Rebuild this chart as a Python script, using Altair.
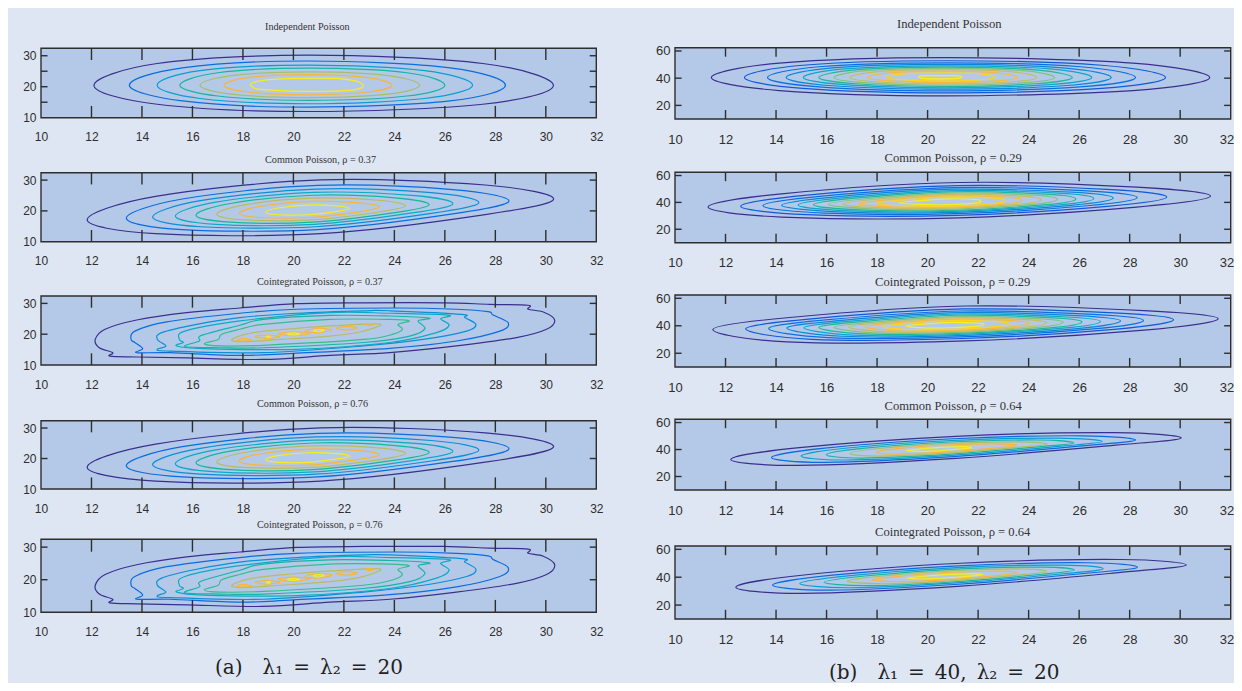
import altair as alt
import pandas as pd

X_TICKS = [12, 14, 16, 18, 20, 22, 24, 26, 28, 30]
X_LABELS = [10, 12, 14, 16, 18, 20, 22, 24, 26, 28, 30, 32]
Y_LABELS_L = [10, 20, 30]
Y_LABELS_R = [20, 40, 60]

TITLES_L = ["Independent Poisson", "Common Poisson, ρ = 0.37", "Cointegrated Poisson, ρ = 0.37",
            "Common Poisson, ρ = 0.76", "Cointegrated Poisson, ρ = 0.76"]
TITLES_R = ["Independent Poisson", "Common Poisson, ρ = 0.29", "Cointegrated Poisson, ρ = 0.29",
            "Common Poisson, ρ = 0.64", "Cointegrated Poisson, ρ = 0.64"]
CAPTION_L = "(a)\u2003λ₁\u2002=\u2002λ₂\u2002=\u200220"
CAPTION_R = "(b)\u2003λ₁\u2002=\u200240,\u2002λ₂\u2002=\u200220"

C7 = ["#3b2f8e", "#0b6be0", "#0a9ed2", "#17b5a2", "#a5bf6c", "#f8b53a", "#f7ec1c"]
C8 = ["#3b2f8e", "#0b6be0", "#0a8fd8", "#0caac6", "#14b89a", "#b9bc60", "#f8b53a", "#f7ec1c"]
C11 = ["#3b2f8e", "#1059da", "#0c6fe0", "#0a86dd", "#0ea6cb", "#1fb79d", "#7dc47c", "#c5bd5e",
       "#f9b83a", "#fcd31e", "#f7ef1c"]
C15 = ["#3b2f8e", "#0b6be0", "#0a8fd8", "#0caac6", "#12b5a8", "#35bd8c", "#b9bc60",
       "#f8b53a", "#f8b53a", "#f8b53a", "#f8b53a", "#f8b53a", "#f8b53a", "#f7ec1c", "#f7ec1c", "#f7ec1c"]

IND_L = [
    [(12.1,20.4),(14.6,27.5),(20.6,30.2),(27.5,27.5),(30.3,20.4),(27.5,14.35),(20.6,12.0),(14.6,14.35)],
    [(13.5,20.5),(15.6,26.1),(20.6,28.3),(26.2,26.1),(28.4,20.5),(26.2,15.4),(20.6,13.4),(15.6,15.4)],
    [(14.6,20.5),(16.3,25.2),(20.6,27),(25.2,25.2),(27.1,20.5),(25.2,16.2),(20.6,14.5),(16.3,16.2)],
    [(15.5,20.5),(17,24.5),(20.6,26),(24.5,24.5),(26,20.5),(24.5,17),(20.6,15.6),(17,17)],
    [(16.3,20.5),(17.55,23.6),(20.6,24.8),(23.75,23.6),(25,20.5),(23.75,17.6),(20.6,16.5),(17.55,17.6)],
    [(17.25,20.5),(18.2,22.95),(20.6,23.9),(22.95,22.95),(23.9,20.5),(22.95,18.3),(20.6,17.4),(18.2,18.3)],
    [(18.36,21.2),(19.03,22.26),(20.1,22.7),(21.7,22.7),(22.5,21.8),(22.75,20.75),(22.7,19.7),(22.2,18.8),(20.44,18.5),(18.7,19.15),(18.36,20.1)],
]
COM_L = [
    [(11.83,17.1),(14.54,24.7),(21.07,30.05),(27.6,28.4),(30.31,23.9),(27.6,18.8),(21.07,12.6),(14.54,12.6)],
    [(13.38,17.64),(15.6,23.87),(20.96,28.26),(26.31,26.91),(28.54,23.22),(26.31,19.03),(20.96,13.95),(15.6,13.95)],
    [(14.42,18),(16.31,23.32),(20.88,27.07),(25.46,25.91),(27.35,22.76),(25.46,19.19),(20.88,14.85),(16.31,14.85)],
    [(15.32,18.31),(16.93,22.84),(20.82,26.02),(24.7,25.04),(26.32,22.36),(24.7,19.33),(20.82,15.64),(16.93,15.64)],
    [(16.14,18.6),(17.5,22.4),(20.76,25.08),(24.03,24.25),(25.38,22),(24.03,19.45),(20.76,16.35),(17.5,16.35)],
    [(16.96,18.89),(18.06,21.96),(20.7,24.13),(23.35,23.46),(24.44,21.64),(23.35,19.57),(20.7,17.06),(18.06,17.06)],
    [(17.86,19.2),(18.68,21.48),(20.64,23.09),(22.6,22.59),(23.41,21.24),(22.6,19.71),(20.64,17.85),(18.68,17.85)],
    [(18.9,19.56),(19.39,20.93),(20.56,21.89),(21.74,21.59),(22.22,20.78),(21.74,19.87),(20.56,18.75),(19.39,18.75)],
]
COI_L = [
    [(12.15,18.3),(12.54,21.6),(13.79,24.6),(15.77,27),(17.88,28.5),(20.13,29.9),(22.77,30.2),(25.93,30.2),(27.78,29.7),(29.3,29.4),(29.3,28.1),(29.9,27.2),(30.35,24.6),(30.03,21.6),(28.84,18.9),(26.46,16.2),(23.82,14),(21.45,13.1),(18.8,11.8),(15.77,12.3),(13.79,12.6),(12.73,12.9),(12.84,14),(12.31,15.6)],
    [(13.57,18.3),(13.72,21),(14.98,24),(17.88,26.8),(20.13,28.1),(24.09,28.5),(26.46,28.1),(27.71,27.3),(27.91,26.2),(28.51,23.7),(28.18,21),(26.46,17.8),(23.82,15.4),(20,13.8),(17.88,13.1),(15.11,14),(13.79,14),(14.03,15.3),(13.72,17.3)],
    [(14.61,18.3),(14.78,20.5),(16.17,23.2),(17.88,25.4),(20.13,26.8),(22.77,27.6),(23.82,27.6),(26.66,26.45),(26.79,25.4),(27.23,23.2),(26.86,21),(25.14,18.3),(22.77,16.2),(18.81,14),(15.11,14.5),(14.61,15.1),(14.95,16.2)],
    [(15.48,18.3),(15.7,21),(17.88,24.3),(21.45,27),(23.82,26.8),(26.13,26.2),(25.83,25),(26.17,22.9),(25.67,20.5),(23.82,17.3),(20.13,15.1),(16.43,15.3),(15.37,16.2),(15.64,17.3)],
    [(15.7,16),(16.27,17.8),(16.36,19.6),(17.88,22.9),(18.81,24.8),(21.45,26.1),(23.82,25.9),(25.38,25.2),(24.94,24.3),(25.21,21.8),(24.61,19.4),(22.77,17.3),(18.81,15.6),(17.09,15.6)],
    [(16.47,16.9),(17.02,18.3),(17.16,20),(17.88,21.6),(18.81,23.2),(21.45,24.8),(23.82,24.8),(24.59,24.3),(24.15,23.2),(24.32,21.6),(23.95,20),(22.77,18.3),(18.81,16.4),(17.09,16.2)],
    [(17.56,18.3),(18.41,20.5),(20.13,21.9),(21.45,22.7),(23.43,23.3),(22.64,20.7),(21.45,19.4),(19.47,18.3),(18.02,17.6)],
    [(17.75,18.1),(18.02,18.55),(18.35,18.1),(18.02,17.8)],
    [(18.48,19.2),(18.94,19.74),(19.47,19.2),(18.94,18.66)],
    [(19.4,20.17),(20,20.8),(20.66,20.3),(20,19.5)],
    [(20.46,21),(20.99,21.9),(21.52,21.4),(20.99,20.5)],
    [(21.71,21.9),(22.11,22.55),(22.53,22),(22.11,21.4)],
    [(22.84,23.2),(23.01,23.4),(23.19,23.1),(23.01,22.8)],
    [(18.92,19.2),(19.01,19.4),(19.1,19.2),(19.01,18.9)],
    [(19.76,20.06),(20,20.4),(20.24,20.06),(20,19.74)],
    [(20.79,21.15),(20.99,21.6),(21.21,21.25),(20.99,20.8)],
]
IND_R = [
    [(11.44,40.5),(14.13,51.1),(20.7,55.1),(28.13,51.1),(31.17,40.5),(28.13,30.9),(20.7,27),(14.13,30.9)],
    [(12.75,40.5),(15.06,49.5),(20.7,52.8),(26.89,49.5),(29.42,40.5),(26.89,32.5),(20.7,29.2),(15.06,32.5)],
    [(13.66,40.5),(15.7,48.4),(20.7,51.3),(26.05,48.4),(28.23,40.5),(26.05,33.6),(20.7,30.7),(15.7,33.6)],
    [(14.4,40.5),(16.23,47.55),(20.7,50.1),(25.36,47.55),(27.27,40.5),(25.36,34.45),(20.7,31.9),(16.23,34.45)],
    [(15.08,40.5),(16.71,46.8),(20.7,49.1),(24.82,46.8),(26.5,40.5),(24.82,35.2),(20.7,32.9),(16.71,35.2)],
    [(15.69,40.5),(17.14,46.1),(20.7,48.1),(24.27,46.1),(25.73,40.5),(24.27,35.9),(20.7,33.9),(17.14,35.9)],
    [(16.3,40.5),(17.58,45.5),(20.7,47.2),(23.77,45.5),(25.03,40.5),(23.77,36.5),(20.7,34.8),(17.58,36.5)],
    [(16.92,40.5),(18.02,44.8),(20.7,46.25),(23.27,44.8),(24.32,40.5),(23.27,37.2),(20.7,35.75),(18.02,37.2)],
    [(17.62,40.5),(18.51,44),(20.7,45.2),(22.72,44),(23.55,40.5),(22.72,38),(20.7,36.8),(18.51,38)],
    [(18.39,40.7),(19.06,43.2),(20.7,44),(22.11,43.2),(22.67,40.7),(22.11,38.8),(20.7,38),(19.06,38.8)],
    [(19.66,41),(19.8,41.7),(20.7,41.9),(21.2,41.7),(21.36,41),(21.2,39.8),(20.5,39.5),(19.8,39.8)],
]
COM_R1 = [
    [(11.31,36.5),(14.22,46.4),(21.25,54.8),(28.28,51.4),(31.2,44.7),(28.28,36.5),(21.25,28.5),(14.22,29.1)],
    [(12.6,37.09),(15.23,45.45),(21.17,52.55),(27.11,49.68),(29.47,44.02),(27.11,37.09),(21.17,30.33),(15.23,30.84)],
    [(13.48,37.49),(15.92,44.81),(21.12,51.03),(26.32,48.51),(28.3,43.56),(26.32,37.49),(21.12,31.57),(15.92,32.01)],
    [(14.22,37.81),(16.47,44.3),(21.08,49.81),(25.69,47.58),(27.35,43.19),(25.69,37.81),(21.08,32.56),(16.47,32.95)],
    [(14.87,38.07),(16.91,43.89),(21.04,48.83),(25.18,46.83),(26.58,42.89),(25.18,38.07),(21.04,33.36),(16.91,33.71)],
    [(15.48,38.31),(17.33,43.49),(21.01,47.88),(24.69,46.1),(25.87,42.6),(24.69,38.31),(21.01,34.13),(17.33,34.44)],
    [(16.06,38.56),(17.77,43.09),(20.98,46.93),(24.19,45.37),(25.14,42.31),(24.19,38.56),(20.98,34.91),(17.77,35.18)],
    [(16.64,38.8),(18.17,42.71),(20.95,46.03),(23.72,44.68),(24.49,42.04),(23.72,38.8),(20.95,35.64),(18.17,35.88)],
    [(17.26,39.07),(18.63,42.28),(20.91,45.01),(23.2,43.91),(23.75,41.73),(23.2,39.07),(20.91,36.46),(18.63,36.66)],
    [(17.93,39.32),(19.07,41.87),(20.88,44.03),(22.69,43.15),(23.05,41.43),(22.69,39.32),(20.88,37.27),(19.07,37.42)],
    [(18.85,39.68),(19.68,41.3),(20.83,42.68),(21.98,42.12),(22.08,41.02),(21.98,39.68),(20.83,38.36),(19.68,38.46)],
]
COI_R1 = [
    [(11.5,37.3),(14.43,45.85),(21.5,54.4),(28.57,51),(31.5,45.1),(28.57,36.8),(21.5,29),(14.43,28.3)],
    [(12.8,37.76),(15.4,45),(21.39,52.24),(27.38,49.36),(29.74,44.37),(27.38,37.34),(21.39,30.73),(15.4,30.14)],
    [(13.71,38.07),(16.07,44.42),(21.32,50.76),(26.57,48.24),(28.55,43.86),(26.57,37.7),(21.32,31.92),(16.07,31.4)],
    [(14.43,38.32),(16.6,43.96),(21.26,49.61),(25.93,47.36),(27.64,43.47),(25.93,37.99),(21.26,32.84),(16.6,32.38)],
    [(15.1,38.54),(17.06,43.56),(21.21,48.58),(25.36,46.58),(26.84,43.12),(25.36,38.25),(21.21,33.67),(17.06,33.26)],
    [(15.69,38.74),(17.48,43.19),(21.16,47.65),(24.85,45.87),(26.11,42.8),(24.85,38.48),(21.16,34.41),(17.48,34.05)],
    [(16.3,38.94),(17.91,42.82),(21.12,46.7),(24.33,45.16),(25.37,42.48),(24.33,38.71),(21.12,35.17),(17.91,34.85)],
    [(16.87,39.12),(18.3,42.48),(21.07,45.83),(23.85,44.49),(24.71,42.18),(23.85,38.93),(21.07,35.87),(18.3,35.6)],
    [(17.52,39.32),(18.72,42.11),(21.03,44.9),(23.33,43.79),(24.03,41.86),(23.33,39.16),(21.03,36.62),(18.72,36.39)],
    [(18.23,39.55),(19.21,41.69),(20.98,43.83),(22.74,42.98),(23.24,41.5),(22.74,39.43),(20.98,37.48),(19.21,37.3)],
    [(19.15,39.84),(19.81,41.16),(20.91,42.49),(22,41.96),(22.24,41.04),(22,39.76),(20.91,38.55),(19.81,38.44)],
]
COM_R2 = [
    [(12.21,32.65),(14.82,41.2),(21.12,49.8),(27.43,52.5),(30.04,48.6),(27.43,43.2),(21.12,33.4),(14.82,28.2)],
    [(13.82,34.14),(15.93,41.05),(21.02,48),(26.12,50.18),(28.23,47.03),(26.12,42.66),(21.02,34.74),(15.93,30.54)],
    [(14.99,35.22),(16.73,40.94),(20.95,46.69),(25.17,48.49),(26.92,45.89),(25.17,42.27),(20.95,35.72),(16.73,32.24)],
    [(15.99,36.14),(17.42,40.84),(20.89,45.57),(24.36,47.06),(25.79,44.91),(24.36,41.94),(20.89,36.55),(17.42,33.69)],
    [(16.93,37.01),(18.07,40.75),(20.83,44.51),(23.58,45.69),(24.73,43.98),(23.58,41.62),(20.83,37.34),(18.07,35.07)],
    [(17.97,37.97),(18.79,40.65),(20.76,43.34),(22.74,44.19),(23.55,42.97),(22.74,41.28),(20.76,38.21),(18.79,36.58)],
    [(19.16,39.3),(19.76,40.52),(20.68,41.76),(21.5,42.15),(21.75,41.2),(21.5,40.81),(20.68,39.39),(19.76,38.63)],
]
COI_R2 = [
    [(12.41,32.85),(15.02,41.4),(21.32,50),(27.63,52.7),(30.24,48.8),(27.63,43.4),(21.32,33.6),(15.02,28.4)],
    [(13.86,34.34),(16.13,41.25),(21.22,48.2),(26.32,50.38),(28.31,47.23),(26.32,42.86),(21.22,34.94),(16.13,30.74)],
    [(14.94,35.42),(16.93,41.14),(21.15,46.89),(25.37,48.69),(26.95,46.09),(25.37,42.47),(21.15,35.92),(16.93,32.44)],
    [(15.9,36.34),(17.62,41.04),(21.09,45.77),(24.56,47.26),(25.81,45.11),(24.56,42.14),(21.09,36.75),(17.62,33.89)],
    [(16.81,37.21),(18.27,40.95),(21.03,44.71),(23.78,45.89),(24.71,44.18),(23.78,41.82),(21.03,37.54),(18.27,35.27)],
    [(17.8,38.17),(18.99,40.85),(20.96,43.54),(22.94,44.39),(23.56,43.17),(22.94,41.48),(20.96,38.41),(18.99,36.78)],
    [(19.19,39.4),(19.9,40.8),(20.85,42),(21.8,42.45),(22.17,41.9),(21.8,41),(20.85,39.6),(19.9,38.9)],
]

BG = "#dfe6f3"
PANEL = "#b4c9e8"
INK = "#2e2e2e"
SERIF = "Liberation Serif"
CAPTION_FONT = "DejaVu Serif"
LABEL_FONT = "Liberation Sans"

CELL_W = 613
ROW_H = [142, 125, 120, 120, 168]
LEFT_FRAME = [(40.3, 109.7), (22.7, 91.7), (21, 90), (25.7, 94), (24.3, 97.3)]
RIGHT_FRAME = [(39.7, 111), (22.3, 92.7), (20, 92), (24.3, 95), (31, 104)]
LEFT_TITLE_POS = [(257, 18.7), (257, 10), (249, 7), (249, 9), (249, 10)]
RIGHT_TITLE_POS = [(276, 16), (263.5, 8), (254, 7), (263.5, 11), (254, 17)]


def panel(contours, colors, title, row, frame, title_pos, xr, ydom, ylabels, ytlen, ylen,
          title_size, label_size, caption=None, caption_pos=None, minor=None, tuck_last=False):
    cell_h = ROW_H[row]
    top, bottom = frame
    xs = alt.Scale(domain=[10, 32], range=list(xr), nice=False, zero=False)
    ys = alt.Scale(domain=list(ydom), range=[bottom, top], nice=False, zero=False)

    extra = {}
    if tuck_last:
        extra = {
            "labelAlign": {"condition": {"test": "datum.value == 32", "value": "right"}, "value": "center"},
            "labelOffset": {"condition": {"test": "datum.value == 32", "value": 3}, "value": 0},
        }
    xax = alt.Axis(values=X_LABELS, orient="bottom", offset=bottom - cell_h, domain=False, ticks=False,
                   tickSize=0, grid=False, title=None, labelPadding=14, labelFont=LABEL_FONT,
                   labelFontSize=label_size, labelColor=INK, labelOverlap=False, labelFlush=False, **extra)
    yax = alt.Axis(values=ylabels, orient="left", offset=-xr[0], domain=False, ticks=False,
                   tickSize=0, grid=False, title=None, labelPadding=5, labelFont=LABEL_FONT,
                   labelFontSize=label_size, labelColor=INK, labelOverlap=False, labelFlush=False)
    X = lambda f: alt.X(f, scale=xs, axis=xax)
    Y = lambda f: alt.Y(f, scale=ys, axis=yax)

    box = pd.DataFrame({"x": [10], "x2": [32], "y": [ydom[0]], "y2": [ydom[1]]})
    base = alt.Chart(box).mark_rect(fill=PANEL, stroke=INK, strokeWidth=1.4).encode(
        x=X("x:Q"), x2="x2:Q", y=Y("y:Q"), y2="y2:Q")

    rows = []
    for k, c in enumerate(contours):
        for i, (px, py) in enumerate(c):
            rows.append({"k": k, "i": i, "x": px, "y": py, "c": colors[k]})
    lines = alt.Chart(pd.DataFrame(rows)).mark_line(interpolate="cardinal-closed", strokeWidth=1.2).encode(
        x=X("x:Q"), y=Y("y:Q"),
        color=alt.Color("c:N", scale=None), detail="k:N", order=alt.Order("i:Q"))

    xt = []
    for t in X_TICKS:
        xt.append({"x": t, "y": ydom[0], "y2": ydom[0] + ytlen})
        xt.append({"x": t, "y": ydom[1] - ytlen, "y2": ydom[1]})
    xrules = alt.Chart(pd.DataFrame(xt)).mark_rule(color=INK, strokeWidth=1.4).encode(
        x=X("x:Q"), y=Y("y:Q"), y2="y2:Q")

    yt = []
    for t in ylabels + (minor or []):
        if t <= ydom[0]:
            continue
        yt.append({"y": t, "x": 10, "x2": 10 + ylen})
        yt.append({"y": t, "x": 32 - ylen, "x2": 32})
    yrules = alt.Chart(pd.DataFrame(yt)).mark_rule(color=INK, strokeWidth=1.4).encode(
        y=Y("y:Q"), x=X("x:Q"), x2="x2:Q")

    head = alt.Chart(pd.DataFrame({"t": [title]})).mark_text(
        align="left", baseline="middle", font=SERIF, fontSize=title_size, color="#333333").encode(
        text="t:N", x=alt.value(title_pos[0]), y=alt.value(title_pos[1]))

    layers = [base, lines, xrules, yrules, head]
    if caption:
        layers.append(alt.Chart(pd.DataFrame({"t": [caption]})).mark_text(
            align="left", baseline="middle", font=CAPTION_FONT, fontSize=20, color="#222222").encode(
            text="t:N", x=alt.value(caption_pos[0]), y=alt.value(caption_pos[1])))
    return alt.layer(*layers).properties(width=CELL_W, height=cell_h)


LEFT_SETS = [(IND_L, C7), (COM_L, C8), (COI_L, C15), (COM_L, C8), (COI_L, C15)]
RIGHT_SETS = [(IND_R, C11), (COM_R1, C11), (COI_R1, C11), (COM_R2, C7), (COI_R2, C7)]

cells = []
for r in range(5):
    cells.append(panel(LEFT_SETS[r][0], LEFT_SETS[r][1], TITLES_L[r], r, LEFT_FRAME[r], LEFT_TITLE_POS[r],
                       (33, 588.3), (10, 32.4), Y_LABELS_L, 3.8, 0.26, 10.2, 12,
                       caption=CAPTION_L if r == 4 else None, caption_pos=(207, 153),
                       minor=[15, 25] if r == 0 else None))
    cells.append(panel(RIGHT_SETS[r][0], RIGHT_SETS[r][1], TITLES_R[r], r, RIGHT_FRAME[r], RIGHT_TITLE_POS[r],
                       (54, 609.7), (10, 62.4), Y_LABELS_R, 6.6, 0.26, 12.6, 13,
                       caption=CAPTION_R if r == 4 else None, caption_pos=(208, 158), tuck_last=True))

chart = alt.concat(*cells, columns=2, spacing=0, bounds="flush", align="each").properties(
    padding=0, background=BG
).configure_view(stroke=None)

chart.save("out.html", embed_options={"renderer": "svg", "actions": False})
